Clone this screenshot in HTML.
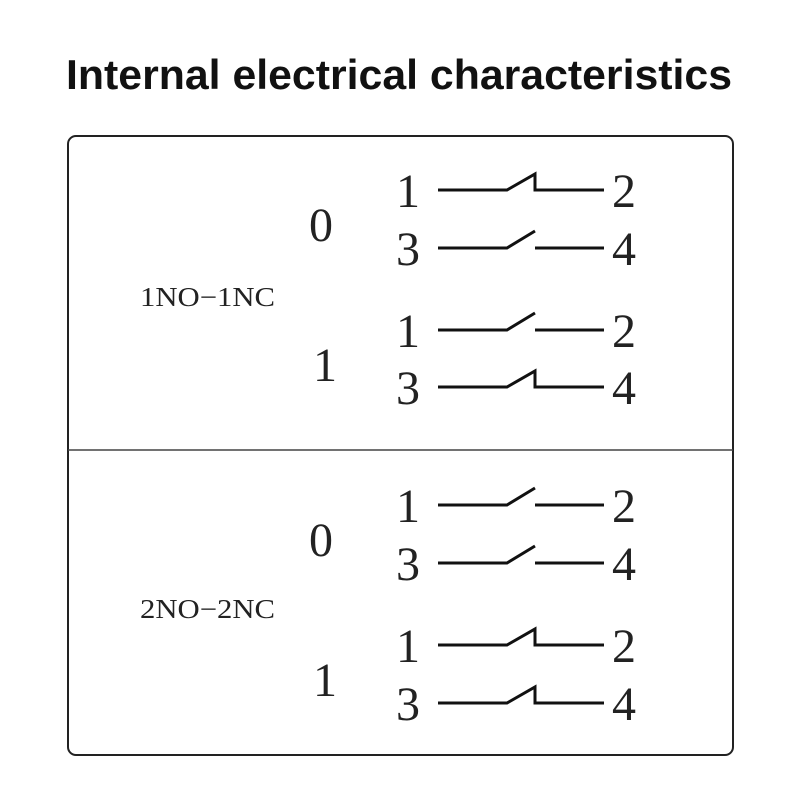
<!DOCTYPE html>
<html><head><style>
body{margin:0;width:800px;height:800px;background:#fff;overflow:hidden}
</style></head><body>
<svg width="800" height="800" xmlns="http://www.w3.org/2000/svg">
<text x="66" y="89" textLength="666" lengthAdjust="spacingAndGlyphs" font-family="Liberation Sans, sans-serif" font-weight="bold" font-size="42" fill="#111">Internal electrical characteristics</text>
<rect x="68" y="136" width="665" height="619" rx="8" fill="none" stroke="#222" stroke-width="2"/>
<line x1="68" y1="450" x2="733" y2="450" stroke="#444" stroke-width="1.5"/>
<g font-family="Liberation Serif, serif" fill="#222">
<text x="140" y="306" font-size="27" textLength="135" lengthAdjust="spacingAndGlyphs">1NO−1NC</text>
<text x="140" y="618" font-size="27" textLength="135" lengthAdjust="spacingAndGlyphs">2NO−2NC</text>
<g font-size="48">
<text x="309" y="241">0</text><text x="313" y="381">1</text>
<text x="309" y="556">0</text><text x="313" y="696">1</text>
</g>
<g font-size="48">
<text x="396" y="207">1</text><text x="612" y="207">2</text>
<text x="396" y="265">3</text><text x="612" y="265">4</text>
<text x="396" y="347">1</text><text x="612" y="347">2</text>
<text x="396" y="404">3</text><text x="612" y="404">4</text>
<text x="396" y="522">1</text><text x="612" y="522">2</text>
<text x="396" y="580">3</text><text x="612" y="580">4</text>
<text x="396" y="662">1</text><text x="612" y="662">2</text>
<text x="396" y="720">3</text><text x="612" y="720">4</text>
</g>
</g>
<defs>
<g id="nc"><polyline points="438,0 507,0 535,-16 535,0 604,0" fill="none" stroke="#111" stroke-width="3"/></g>
<g id="no"><polyline points="438,0 507,0 535,-17" fill="none" stroke="#111" stroke-width="3"/><line x1="535" y1="0" x2="604" y2="0" stroke="#111" stroke-width="3"/></g>
</defs>
<use href="#nc" y="190"/><use href="#no" y="248"/>
<use href="#no" y="330"/><use href="#nc" y="387"/>
<use href="#no" y="505"/><use href="#no" y="563"/>
<use href="#nc" y="645"/><use href="#nc" y="703"/>
</svg>
</body></html>
